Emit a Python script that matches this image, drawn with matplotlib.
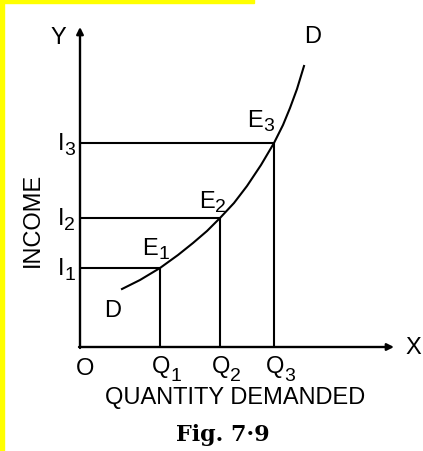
import matplotlib.pyplot as plt
from matplotlib.patches import Rectangle

plt.rcParams['font.family'] = ['Liberation Sans', 'DejaVu Sans']

# values (origin at O)
q_vals = [80, 140, 194]
i_vals = [79, 129, 204]
subs = ['1', '2', '3']
curve_x = [42, 60, 80, 98, 113, 127, 140, 154, 167, 181, 194, 203, 210, 217, 224]
curve_y = [58, 67, 79, 92, 104, 116, 129, 144, 161, 182, 204, 222, 239, 258, 281]

# where the E labels sit relative to their points
e_dx = [-2, -5, -11]
e_dy = [14, 11, 17]

fig = plt.figure(figsize=(4.23, 4.52), dpi=100)
fig.patch.set_facecolor('white')
ax = fig.add_axes([0, 0, 1, 1])
ax.set_xlim(-80, 343)
ax.set_ylim(-104, 348)
ax.axis('off')

# yellow strips from the page
fig.patches.append(Rectangle((0, 0), 4 / 423, 1, transform=fig.transFigure,
                             color='#ffff00', zorder=0))
fig.patches.append(Rectangle((0, 1 - 4 / 452), 254 / 423, 4 / 452,
                             transform=fig.transFigure, color='#ffff00', zorder=0))

lw = 1.5
# axes with arrows
ax.annotate('', xy=(0, 320), xytext=(0, -1),
            arrowprops=dict(arrowstyle='-|>', lw=1.7, color='black',
                            mutation_scale=10, shrinkA=0, shrinkB=0))
ax.annotate('', xy=(314, 0), xytext=(-1, 0),
            arrowprops=dict(arrowstyle='-|>', lw=1.7, color='black',
                            mutation_scale=10, shrinkA=0, shrinkB=0))

# guide lines to each point
for q, i in zip(q_vals, i_vals):
    ax.plot([0, q], [i, i], color='black', lw=lw, solid_capstyle='butt')
    ax.plot([q, q], [0, i], color='black', lw=lw, solid_capstyle='butt')

ax.plot(curve_x, curve_y, color='black', lw=lw, solid_joinstyle='round')

fs = 17
fs_sub = 14


def sub_label(x, y, main, sub, dy):
    # letter ends at x, subscript starts there, dropped by dy
    ax.text(x, y, main, fontsize=fs, ha='right', va='baseline')
    ax.text(x, y - dy, sub, fontsize=fs_sub, ha='left', va='baseline')


for q, i, s, dx, dy in zip(q_vals, i_vals, subs, e_dx, e_dy):
    sub_label(q + 10, -25, 'Q', s, 8)
    sub_label(-16, i - 6, 'I', s, 5)
    sub_label(q + dx, i + dy, 'E', s, 4)

ax.text(-22, 310, 'Y', fontsize=fs, ha='center', va='center')
ax.text(233, 311, 'D', fontsize=fs, ha='center', va='center')
ax.text(33, 37, 'D', fontsize=fs, ha='center', va='center')
ax.text(5, -21, 'O', fontsize=fs, ha='center', va='center')
ax.text(333, 0, 'X', fontsize=fs, ha='center', va='center')
ax.text(-47, 128, 'INCOME', fontsize=fs, ha='center', va='center', rotation=90)
ax.text(155, -50, 'QUANTITY DEMANDED', fontsize=fs, ha='center', va='center')
ax.text(143, -87, 'Fig. 7·9', fontsize=16, ha='center', va='center',
        family=['DejaVu Serif'], fontweight='bold')

fig.savefig('out.png', dpi=100, facecolor='white')
